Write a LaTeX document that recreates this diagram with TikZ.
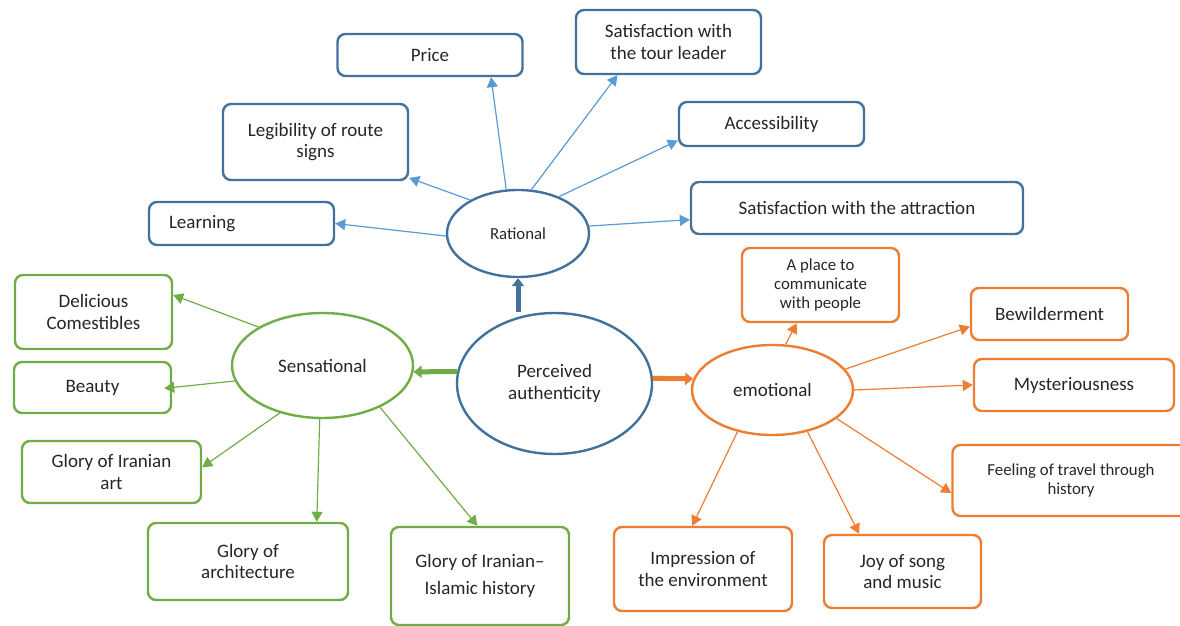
\documentclass[tikz,border=0pt]{standalone}
\usepackage{fontspec}
\setmainfont{Carlito}
\definecolor{boxblue}{RGB}{65,113,156}
\definecolor{lineblue}{RGB}{91,155,213}
\definecolor{leafgreen}{RGB}{112,173,71}
\definecolor{warmorange}{RGB}{237,125,49}
\definecolor{inkgray}{RGB}{38,38,38}
\usetikzlibrary{arrows.meta,shapes.geometric}

\begin{document}
\begin{tikzpicture}[x=0.5pt,y=-0.5pt,
    every node/.style={text=inkgray, font=\fontsize{9.5}{10.8}\selectfont},
    card/.style={draw=#1, rounded corners=4pt, line width=1.2pt, align=center, inner sep=2pt},
    hub/.style={draw=#1, ellipse, line width=1.2pt, align=center, inner sep=0pt},
    twig/.style={draw=#1, line width=0.6pt, -{Triangle[length=5pt,width=5.5pt]}},
    bough/.style={draw=#1, line width=2.5pt, -{Triangle[length=4pt,width=6pt]}},
    smalltext/.style={font=\fontsize{8.4}{9.6}\selectfont}]
  \useasboundingbox (0,0) rectangle (1180,626);

  \node[hub=boxblue, minimum width=97.5pt, minimum height=70.5pt] (pa) at (554.5,383.5) {Perceived\\authenticity};
  \node[hub=boxblue, minimum width=71pt, minimum height=43.5pt, smalltext] (rat) at (518,233.5) {Rational};
  \node[hub=leafgreen, minimum width=90.5pt, minimum height=52.5pt] (sens) at (322.5,365.5) {Sensational};
  \node[hub=warmorange, minimum width=80.5pt, minimum height=45pt] (emo) at (772.5,390) {emotional};

  \node[card=boxblue, minimum width=92.5pt, minimum height=21pt] (price) at (430,55) {Price};
  \node[card=boxblue, minimum width=92.5pt, minimum height=32pt] (tour) at (668.5,42) {Satisfaction with\\the tour leader};
  \node[card=boxblue, minimum width=92.5pt, minimum height=22pt] (access) at (771.5,124) {Accessibility};
  \node[card=boxblue, minimum width=92.5pt, minimum height=38pt] (legib) at (315.5,142) {Legibility of route\\signs};
  \node[card=boxblue, minimum height=21.5pt, text width=72.5pt, inner xsep=10pt, align=left] (learn) at (241.5,223.5) {Learning};
  \node[card=boxblue, minimum width=166pt, minimum height=26pt] (attr) at (857,208) {Satisfaction with the attraction};

  \node[card=leafgreen, minimum width=78.5pt, minimum height=37pt] (delic) at (93.5,312) {Delicious\\Comestibles};
  \node[card=leafgreen, minimum width=78.5pt, minimum height=25.5pt] (beauty) at (92.5,387.5) {Beauty};
  \node[card=leafgreen, minimum width=89.5pt, minimum height=31pt] (artglory) at (111.5,472) {Glory of Iranian\\art};
  \node[card=leafgreen, minimum width=100pt, minimum height=38.5pt] (archglory) at (248,561.5) {Glory of\\architecture};
  \node[card=leafgreen, minimum width=89pt, minimum height=49pt, font=\fontsize{9.5}{13.5}\selectfont] (histglory) at (480,576) {Glory of Iranian--\\Islamic history};

  \node[card=warmorange, minimum width=78.5pt, minimum height=37pt, smalltext] (place) at (820.5,285) {A place to\\communicate\\with people};
  \node[card=warmorange, minimum width=78.5pt, minimum height=26pt] (bewild) at (1049.5,314) {Bewilderment};
  \node[card=warmorange, minimum width=100pt, minimum height=26pt] (myst) at (1074,385) {Mysteriousness};
  \node[card=warmorange, minimum width=118.5pt, minimum height=35.5pt, smalltext] (feel) at (1071,480.5) {Feeling of travel through\\history};
  \node[card=warmorange, minimum width=89pt, minimum height=42pt] (impr) at (703,569) {Impression of\\the environment};
  \node[card=warmorange, minimum width=78.5pt, minimum height=36.5pt] (joy) at (902.5,571.5) {Joy of song\\and music};

  \draw[bough=boxblue] (rat.south |- pa.north) -- (rat.south);
  \draw[bough=leafgreen] (pa.173) -- (sens.-4);
  \draw[bough=warmorange] (pa.3) -- (emo.172);

  \draw[twig=lineblue] (rat.182) -- (learn.east);
  \draw[twig=lineblue] (rat.145) -- (legib.-21);
  \draw[twig=lineblue] (rat.105) -- (price.-20);
  \draw[twig=lineblue] (rat.73) -- (tour.213);
  \draw[twig=lineblue] (rat.42) -- (access.190);
  \draw[twig=lineblue] (rat.6) -- (attr.184);

  \draw[twig=leafgreen] (sens.149) -- (delic.12);
  \draw[twig=leafgreen, shorten >=-4pt] (sens.190) -- (beauty.east);
  \draw[twig=leafgreen] (sens.228) -- (artglory.3);
  \draw[twig=leafgreen] (sens.267) -- (archglory.30);
  \draw[twig=leafgreen] (sens.-36) -- (histglory.93);

  \draw[twig=warmorange] (emo.74) -- (place.238);
  \draw[twig=warmorange] (emo.16) -- (bewild.189);
  \draw[twig=warmorange] (emo.east) -- (myst.west);
  \draw[twig=warmorange] (emo.-24) -- (feel.186);
  \draw[twig=warmorange] (emo.230) -- (impr.104);
  \draw[twig=warmorange] (emo.-50) -- (joy.139);
\end{tikzpicture}
\end{document}
